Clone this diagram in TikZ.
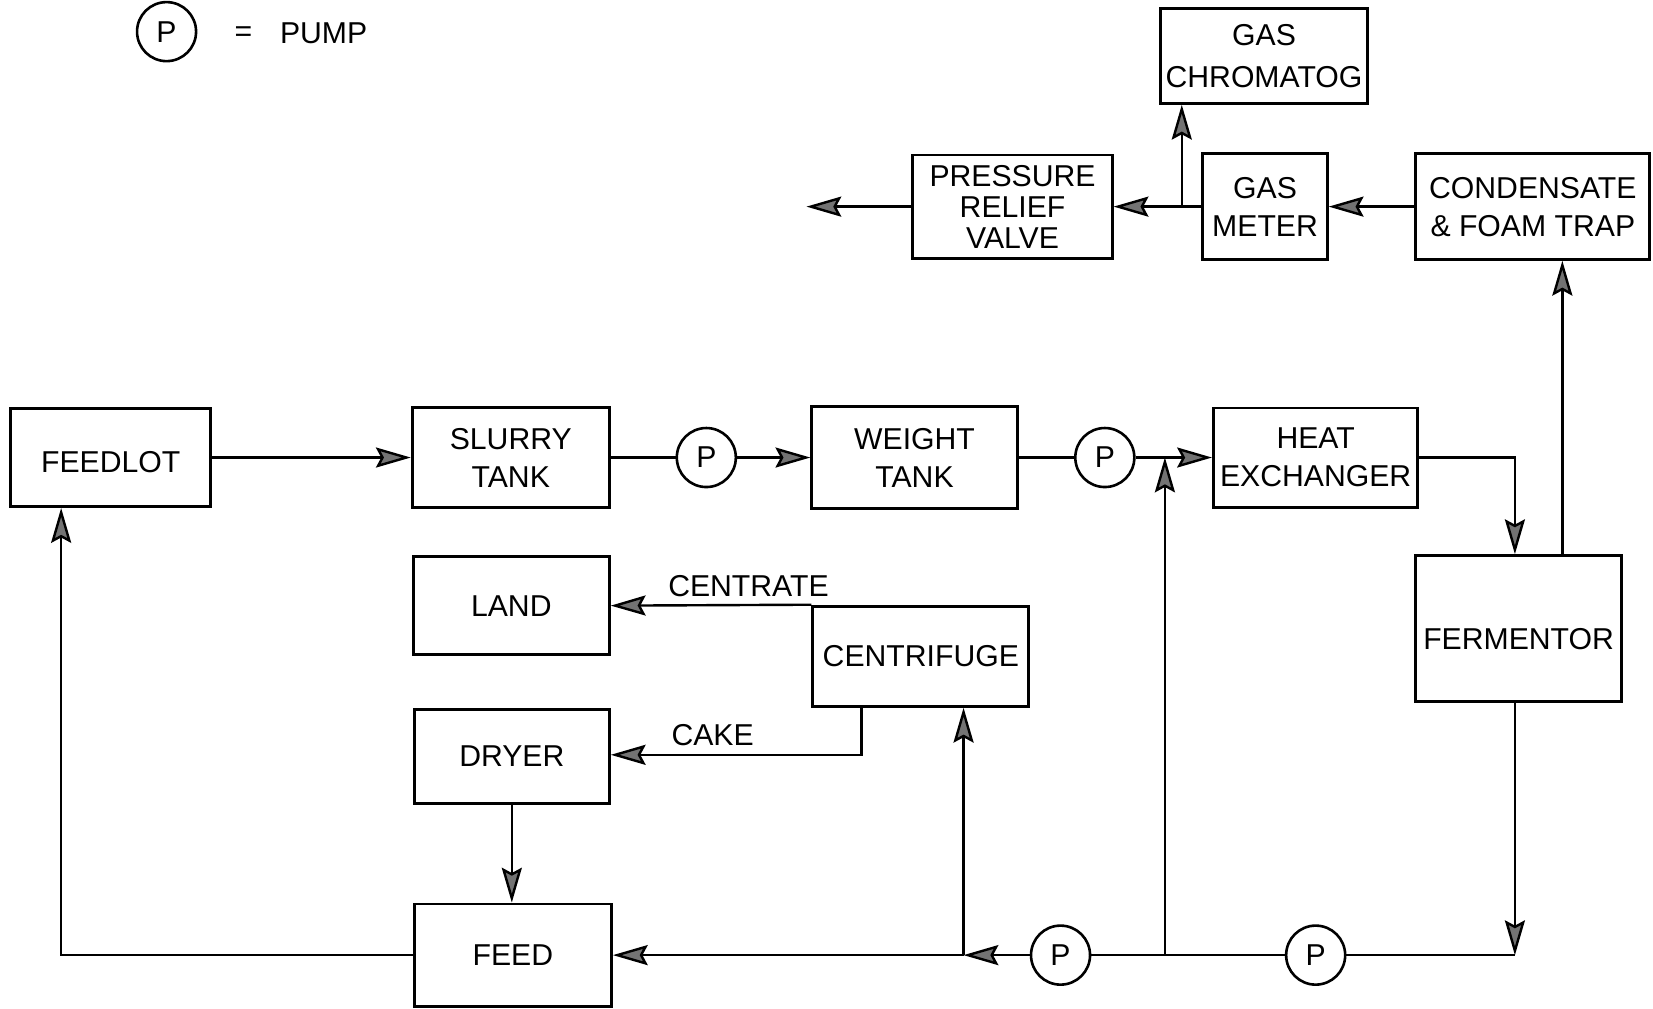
\documentclass[tikz,border=0pt]{standalone}
\usepackage{fontspec}
\setmainfont{Liberation Sans}
\usetikzlibrary{arrows.meta}
\begin{document}
\begin{tikzpicture}[x=0.02cm,y=-0.02cm,
  font=\fontsize{16.3}{20.5}\selectfont,
  box/.style={draw, line width=1.6pt, inner sep=0pt, align=center},
  pump/.style={draw, circle, line width=1.4pt, minimum size=1.12cm, inner sep=0pt},
  flow/.style={line width=1.3pt},
  arr/.style={flow, -{Stealth[length=0.66cm,width=0.38cm,inset=0.1cm,fill=black!55]}},
  lbl/.style={inner sep=1pt}
]
\useasboundingbox[fill=white] (0,0) rectangle (1568,957);

% legend
\node[pump] (lp) at (158,30) {P};
\node[lbl] (leq) at (231,32) {=};
\node[lbl] (lpump) at (307,32) {PUMP};

% main row
\node[box, minimum width=3.80cm, minimum height=1.86cm, text height=0.56cm, text depth=0cm] (feedlot) at (105,434) {FEEDLOT};
\node[box, minimum width=3.74cm, minimum height=1.90cm] (slurry) at (484.5,434) {SLURRY\\TANK};
\node[pump] (p1) at (670,434) {P};
\node[box, minimum width=3.90cm, minimum height=1.92cm] (weight) at (867.5,434) {WEIGHT\\TANK};
\node[pump] (p2) at (1048,434) {P};
\node[box, minimum width=3.88cm, minimum height=1.88cm] (heatx) at (1248,434) {HEAT\\EXCHANGER};
\node[box, minimum width=3.90cm, minimum height=2.76cm, text height=0.8cm, text depth=0cm] (ferm) at (1440.5,596) {FERMENTOR};

% gas line
\node[box, minimum width=4.44cm, minimum height=2.00cm] (cond) at (1454,196) {CONDENSATE\\\& FOAM TRAP};
\node[box, minimum width=2.36cm, minimum height=2.00cm] (gasm) at (1200,196) {GAS\\METER};
\node[box, minimum width=3.78cm, minimum height=1.96cm, font=\fontsize{16.3}{16.8}\selectfont] (prv) at (960.5,196) {PRESSURE\\RELIEF\\VALVE};
\node[box, minimum width=3.92cm, minimum height=1.80cm, font=\fontsize{16.3}{22.8}\selectfont] (gc) at (1199,53) {GAS\\CHROMATOG};

% lower part
\node[box, minimum width=3.72cm, minimum height=1.86cm] (land) at (485,574.5) {LAND};
\node[box, minimum width=4.10cm, minimum height=1.90cm] (centr) at (873.5,622.5) {CENTRIFUGE};
\node[box, minimum width=3.70cm, minimum height=1.78cm] (dryer) at (485.5,717.5) {DRYER};
\node[box, minimum width=3.74cm, minimum height=1.94cm] (feed) at (486.5,906) {FEED};
\node[pump] (p3) at (1006,906) {P};
\node[pump] (p4) at (1248,906) {P};

\node[lbl] (centrate) at (710,556) {CENTRATE};
\node[lbl] (cakel) at (676,697) {CAKE};

% coordinates
\coordinate (j1) at (1105,434);
\coordinate (j2) at (1105,906);
\coordinate (hxc) at (1437,434);
\coordinate (fbr) at (1437,906);
\coordinate (cbl) at (914,906);
\coordinate (jg) at (1121,196);
\coordinate (vent) at (765,196);
\coordinate (fbl) at (58,906);
\coordinate (cake) at (817,716);
\coordinate (fc) at (1482,0);

% connectors
\draw[arr] (feedlot) -- (slurry);
\draw[flow] (slurry) -- (p1);
\draw[arr] (p1) -- (weight);
\draw[flow] (weight) -- (p2);
\draw[flow] (p2) -- (j1);
\draw[arr] (j1) -- (heatx.west);
\draw[arr] (heatx.east) -- (hxc) -- (hxc |- ferm.north);
\draw[arr] (ferm.south -| fbr) -- (fbr);
\draw[flow] (fbr) -- (p4);
\draw[flow] (p4) -- (j2) -- (p3);
\draw[arr] (j2) -- (j1);
\draw[arr] (p3) -- (cbl);
\draw[arr] (cbl) -- (cbl |- centr.south);
\draw[arr] (cbl) -- (feed.east);
\draw[arr] (centr.north west) -- (land.east);
\draw[arr] (centr.south -| cake) -- (cake) -- (cake -| dryer.east);
\draw[arr] (dryer.south) -- (dryer.south |- feed.north);
\draw[arr] (feed.west) -- (fbl) -- (fbl |- feedlot.south);
\draw[arr] (cond.west) -- (gasm.east);
\draw[flow] (gasm.west) -- (jg);
\draw[arr] (jg) -- (prv.east);
\draw[arr] (jg) -- (jg |- gc.south);
\draw[arr] (prv.west) -- (vent);
\draw[arr] (ferm.north -| fc) -- (cond.south -| fc);
\end{tikzpicture}
\end{document}
